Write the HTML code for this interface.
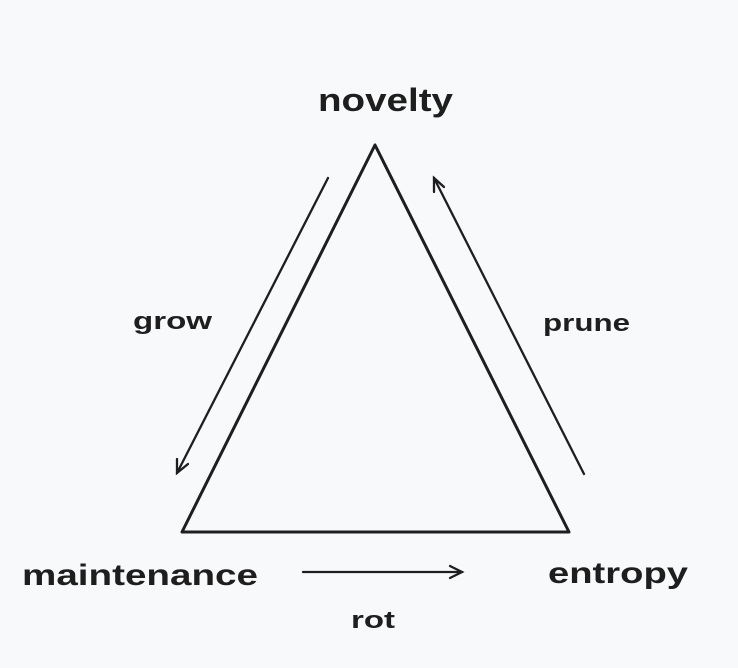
<!DOCTYPE html>
<html><head><meta charset="utf-8"><style>
html,body{margin:0;padding:0;background:#f8f9fb;}
svg{display:block}
text{font-family:"Liberation Sans",sans-serif;fill:#1e1e1e;font-weight:bold;}
</style></head><body>
<svg width="738" height="668" viewBox="0 0 738 668">
<rect width="738" height="668" fill="#f8f9fb"/>
<path d="M375 145 L182 532 L569 532 Z" fill="none" stroke="#1e1e1e" stroke-width="3" stroke-linejoin="round"/>
<g stroke="#1e1e1e" stroke-width="2.3" fill="none" stroke-linecap="round">
<line x1="328" y1="178" x2="177" y2="473"/>
<path d="M177 459 L177 473 L188 464"/>
<line x1="584" y1="474" x2="434" y2="178"/>
<path d="M434 192 L434 178 L444 187"/>
<line x1="303" y1="572" x2="462" y2="572"/>
<path d="M450 566 L462 572 L450 578"/>
</g>
<text x="318" y="111" font-size="32" textLength="135" lengthAdjust="spacingAndGlyphs">novelty</text>
<text x="133" y="329" font-size="24" textLength="79" lengthAdjust="spacingAndGlyphs">grow</text>
<text x="543" y="331" font-size="24" textLength="87" lengthAdjust="spacingAndGlyphs">prune</text>
<text x="22" y="585" font-size="30" textLength="236" lengthAdjust="spacingAndGlyphs">maintenance</text>
<text x="548" y="583" font-size="30" textLength="140" lengthAdjust="spacingAndGlyphs">entropy</text>
<text x="351" y="628" font-size="24" textLength="44" lengthAdjust="spacingAndGlyphs">rot</text>
</svg>
</body></html>
